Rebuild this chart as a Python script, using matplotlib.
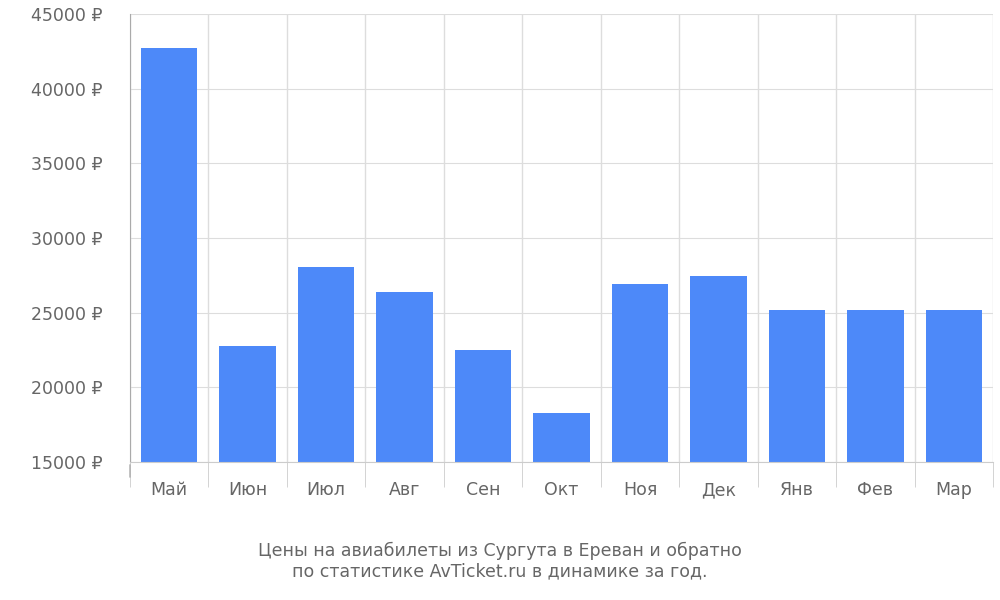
import matplotlib
matplotlib.use("Agg")
import matplotlib.pyplot as plt
import numpy as np

months = ["Май", "Июн", "Июл", "Авг", "Сен", "Окт", "Ноя", "Дек", "Янв", "Фев", "Мар"]
prices = [42700, 22750, 28050, 26400, 22500, 18300, 26900, 27450, 25150, 25150, 25150]
yticks = [15000, 20000, 25000, 30000, 35000, 40000, 45000]

fig = plt.figure(figsize=(10, 6), dpi=100)
ax = fig.add_axes([0.130, 0.230, 0.863, 0.747])
x = np.arange(len(months))
ax.bar(x, np.array(prices) - 15000, bottom=15000, width=0.72, color="#4d89f9", zorder=2)
ax.set_xlim(-0.5, len(months) - 0.5)
ax.set_ylim(15000, 45000)
ax.set_yticks(yticks)
ax.set_yticklabels([f"{v} ₽" for v in yticks], fontsize=12.5, color="#666666")
ax.tick_params(axis="y", length=0, pad=20)
ax.set_xticks(x)
ax.set_xticklabels(months, fontsize=12.5, color="#666666")
ax.tick_params(axis="x", which="major", length=0, pad=14)
bounds = np.arange(len(months) + 1) - 0.5
ax.set_xticks(bounds, minor=True)
ax.tick_params(axis="x", which="minor", length=18, color="#cccccc", direction="out")
ax.grid(True, axis="y", color="#dddddd", zorder=0)
for b in bounds:
    ax.axvline(b, color="#dddddd", lw=1, zorder=0)
for s in ["top", "right"]:
    ax.spines[s].set_visible(False)
ax.spines["bottom"].set_color("#cccccc")
ax.spines["left"].set_color("#aaaaaa")
ax.spines["left"].set_bounds(15000, 45000)
ax.plot([-0.5, -0.5], [0, 1], transform=ax.get_xaxis_transform(), clip_on=False, alpha=0)
ax.annotate("", xy=(-0.5, 15000), xytext=(-0.5, 13800),
            arrowprops=dict(arrowstyle="-", color="#aaaaaa"), annotation_clip=False)
fig.text(0.5, 0.065, "Цены на авиабилеты из Сургута в Ереван и обратно\nпо статистике AvTicket.ru в динамике за год.",
         ha="center", va="center", fontsize=12.5, color="#666666", linespacing=1.2)
fig.savefig("out.png")
